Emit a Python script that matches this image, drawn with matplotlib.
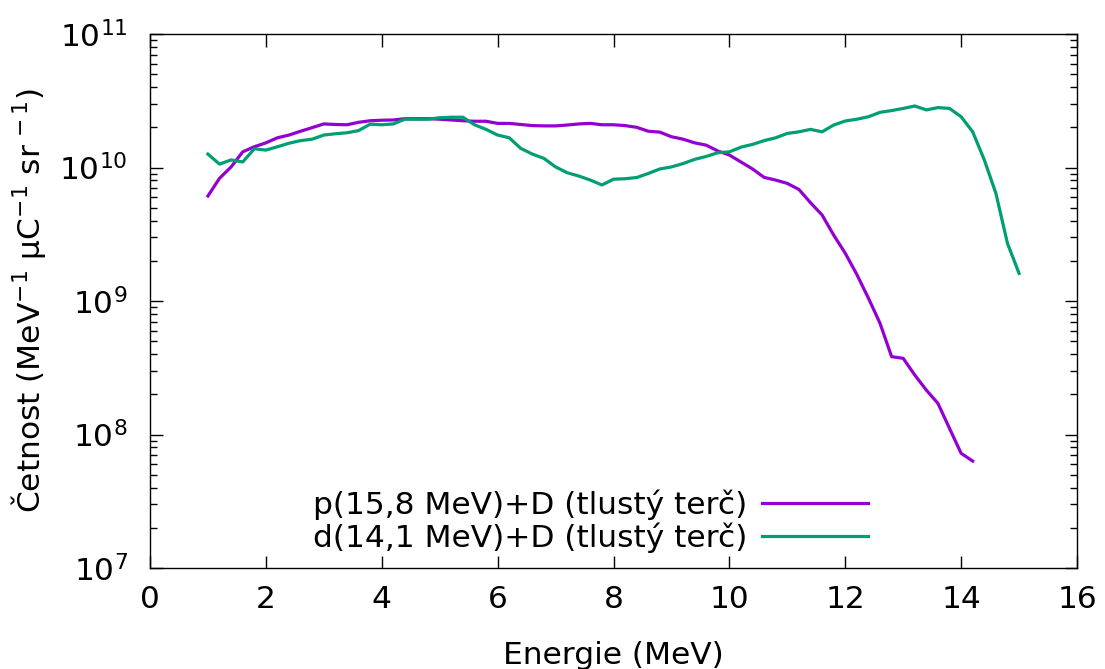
import numpy as np
import matplotlib
matplotlib.use("Agg")
import matplotlib.pyplot as plt
from matplotlib.ticker import LogLocator, MultipleLocator, NullFormatter

# Energy grids (MeV)
energy_p = [round(1.0 + 0.2 * i, 1) for i in range(67)]   # 1.0 .. 14.2
energy_d = [round(1.0 + 0.2 * i, 1) for i in range(71)]   # 1.0 .. 15.0

# p(15,8 MeV)+D counts
counts_p = [6.12e9, 8.30e9, 1.01e10, 1.31e10, 1.43e10, 1.53e10, 1.67e10, 1.75e10, 1.87e10, 1.99e10,
            2.12e10, 2.10e10, 2.09e10, 2.18e10, 2.24e10, 2.26e10, 2.27e10, 2.32e10, 2.32e10, 2.32e10,
            2.30e10, 2.27e10, 2.24e10, 2.22e10, 2.22e10, 2.14e10, 2.14e10, 2.10e10, 2.06e10, 2.05e10,
            2.05e10, 2.08e10, 2.12e10, 2.14e10, 2.09e10, 2.09e10, 2.06e10, 2.00e10, 1.87e10, 1.84e10,
            1.70e10, 1.63e10, 1.53e10, 1.47e10, 1.33e10, 1.24e10, 1.10e10, 9.75e9, 8.43e9, 8.05e9,
            7.60e9, 6.85e9, 5.45e9, 4.41e9, 3.12e9, 2.28e9, 1.58e9, 1.05e9, 6.81e8, 3.83e8,
            3.72e8, 2.79e8, 2.15e8, 1.71e8, 1.11e8, 7.23e7, 6.32e7]

# d(14,1 MeV)+D counts
counts_d = [1.26e10, 1.06e10, 1.14e10, 1.10e10, 1.38e10, 1.35e10, 1.43e10, 1.52e10, 1.59e10, 1.63e10,
            1.75e10, 1.79e10, 1.82e10, 1.89e10, 2.11e10, 2.09e10, 2.12e10, 2.30e10, 2.30e10, 2.30e10,
            2.36e10, 2.38e10, 2.38e10, 2.09e10, 1.93e10, 1.75e10, 1.67e10, 1.39e10, 1.26e10, 1.17e10,
            1.01e10, 9.14e9, 8.63e9, 8.05e9, 7.40e9, 8.17e9, 8.24e9, 8.41e9, 9.02e9, 9.75e9,
            1.01e10, 1.07e10, 1.15e10, 1.21e10, 1.29e10, 1.31e10, 1.42e10, 1.49e10, 1.59e10, 1.67e10,
            1.80e10, 1.85e10, 1.93e10, 1.85e10, 2.08e10, 2.23e10, 2.30e10, 2.40e10, 2.59e10, 2.67e10,
            2.77e10, 2.89e10, 2.70e10, 2.81e10, 2.77e10, 2.40e10, 1.85e10, 1.14e10, 6.41e9, 2.70e9,
            1.61e9]

label_p = "p(15,8 MeV)+D (tlustý terč)"
label_d = "d(14,1 MeV)+D (tlustý terč)"
x_ticks = [0, 2, 4, 6, 8, 10, 12, 14, 16]

plt.rcParams['font.family'] = ['DejaVu Sans']
plt.rcParams['mathtext.fontset'] = 'dejavusans'

FS = 22.5

fig = plt.figure(figsize=(11.05, 6.69), dpi=100)
ax = fig.add_axes([150 / 1105, 1 - 568 / 669, (1077 - 150) / 1105, (568 - 34) / 669])

ax.plot(energy_p, counts_p, color='#9400D3', lw=2.3, label=label_p)
ax.plot(energy_d, counts_d, color='#009E73', lw=2.3, label=label_d)

ax.set_yscale('log')
ax.set_xlim(0, 16)
ax.set_ylim(1e7, 1e11)
ax.set_xticks(x_ticks)
ax.yaxis.set_major_locator(LogLocator(base=10, numticks=10))
ax.yaxis.set_minor_locator(LogLocator(base=10, subs=np.arange(2, 10), numticks=20))
ax.yaxis.set_minor_formatter(NullFormatter())

ax.tick_params(which='both', direction='in', top=True, right=True, labelsize=FS, width=1.0, color='black')
ax.tick_params(which='major', length=9)
ax.tick_params(which='minor', length=5)
ax.tick_params(axis='x', which='major', pad=12)
ax.tick_params(axis='y', which='major', pad=16)
for s in ax.spines.values():
    s.set_linewidth(1.0)

ax.set_xlabel("Energie (MeV)", fontsize=FS, labelpad=20)
ax.set_ylabel("Četnost (MeV$^{-1}$ μC$^{-1}$ sr$^{\\,-1}$)", fontsize=FS, labelpad=8)

ax.legend(loc='lower right', bbox_to_anchor=(0.798, -0.013), frameon=False, markerfirst=False,
          handlelength=3.4, fontsize=FS, labelspacing=0.08, handletextpad=0.45, borderpad=0.2)

fig.savefig("out.png", dpi=100)
